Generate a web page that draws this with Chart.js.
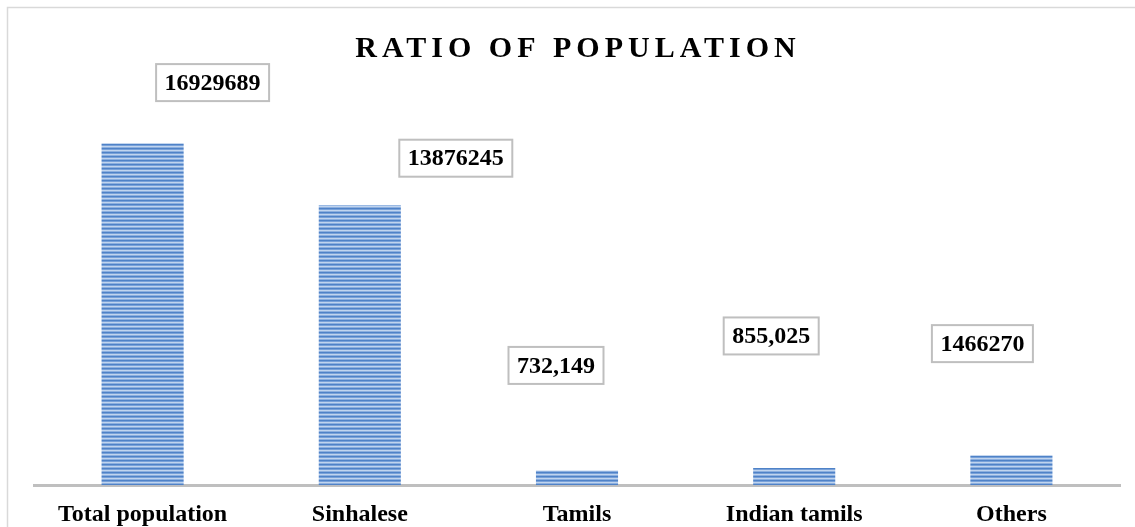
<!DOCTYPE html>
<html>
<head>
<meta charset="utf-8">
<script src="https://cdn.jsdelivr.net/npm/chart.js@4.4.0/dist/chart.umd.min.js"></script>
<style>
  html, body { margin: 0; padding: 0; background: #fff; overflow: hidden; }
  #wrap { width: 1135px; height: 527px; overflow: hidden; }
</style>
</head>
<body>
<div id="wrap"><canvas id="chart" width="1135" height="536"></canvas></div>
<script>
const categories = ["Total population", "Sinhalese", "Tamils", "Indian tamils", "Others"];
const population = [16929689, 13876245, 732149, 855025, 1466270];
const valueLabels = ["16929689", "13876245", "732,149", "855,025", "1466270"];
// where each value box sits relative to the top centre of its bar
const labelOffsets = [[70, -61], [96, -47], [-21, -105], [-23, -132], [-29, -112]];

const serif = '"Liberation Serif", "Times New Roman", serif';

function stripePattern(ctx) {
  const c = document.createElement("canvas");
  c.width = 1;
  c.height = 4;
  const g = c.getContext("2d");
  const rows = ["#4f82c7", "#78a1d9", "#c0d4ee", "#8cafdf"];
  rows.forEach((col, i) => {
    g.fillStyle = col;
    g.fillRect(0, i, 1, 1);
  });
  return ctx.createPattern(c, "repeat");
}

// Outer frame and title
const framePlugin = {
  id: "frame",
  beforeDraw(chart) {
    const ctx = chart.ctx;
    ctx.save();
    ctx.strokeStyle = "#d9d9d9";
    ctx.lineWidth = 1.5;
    ctx.strokeRect(7.5, 7.5, chart.width + 20, chart.height + 20);
    ctx.restore();
  },
  afterDraw(chart) {
    const ctx = chart.ctx;
    ctx.save();
    ctx.font = "bold 30px " + serif;
    ctx.letterSpacing = "5px";
    ctx.fillStyle = "#000";
    ctx.textAlign = "center";
    ctx.textBaseline = "alphabetic";
    ctx.fillText("RATIO OF POPULATION", 578, 57);
    ctx.restore();
  },
};

// Boxed value labels
const valueBoxPlugin = {
  id: "valueBoxes",
  afterDatasetsDraw(chart) {
    const ctx = chart.ctx;
    const meta = chart.getDatasetMeta(0);
    ctx.save();
    ctx.font = "bold 24px " + serif;
    meta.data.forEach((bar, i) => {
      const [dx, dy] = labelOffsets[i];
      const cx = bar.x + dx;
      const cy = bar.y + dy;
      const w = ctx.measureText(valueLabels[i]).width + 17;
      const h = 37;
      ctx.fillStyle = "#fff";
      ctx.fillRect(cx - w / 2, cy - h / 2, w, h);
      ctx.strokeStyle = "#bfbfbf";
      ctx.lineWidth = 2;
      ctx.strokeRect(cx - w / 2, cy - h / 2, w, h);
      ctx.fillStyle = "#000";
      ctx.textAlign = "center";
      ctx.textBaseline = "middle";
      ctx.fillText(valueLabels[i], cx, cy + 1);
    });
    ctx.restore();
  },
};

const canvas = document.getElementById("chart");
const ctx = canvas.getContext("2d");

new Chart(ctx, {
  type: "bar",
  data: {
    labels: categories,
    datasets: [
      {
        label: "Population",
        data: population,
        backgroundColor: stripePattern(ctx),
        borderWidth: 0,
        categoryPercentage: 1,
        barPercentage: 0.378,
      },
    ],
  },
  options: {
    responsive: false,
    animation: false,
    devicePixelRatio: 1,
    layout: {
      padding: { left: 34, right: 15, top: 122, bottom: 0 },
    },
    scales: {
      x: {
        grid: { display: false },
        border: { display: true, color: "#bfbfbf", width: 3 },
        ticks: {
          color: "#000",
          font: { family: serif, size: 24, weight: "bold" },
          padding: 7,
          maxRotation: 0,
          autoSkip: false,
        },
      },
      y: {
        display: false,
        min: 0,
        max: 18000000,
      },
    },
    plugins: {
      legend: { display: false },
      title: { display: false },
      tooltip: { enabled: false },
    },
  },
  plugins: [framePlugin, valueBoxPlugin],
});
</script>
</body>
</html>
